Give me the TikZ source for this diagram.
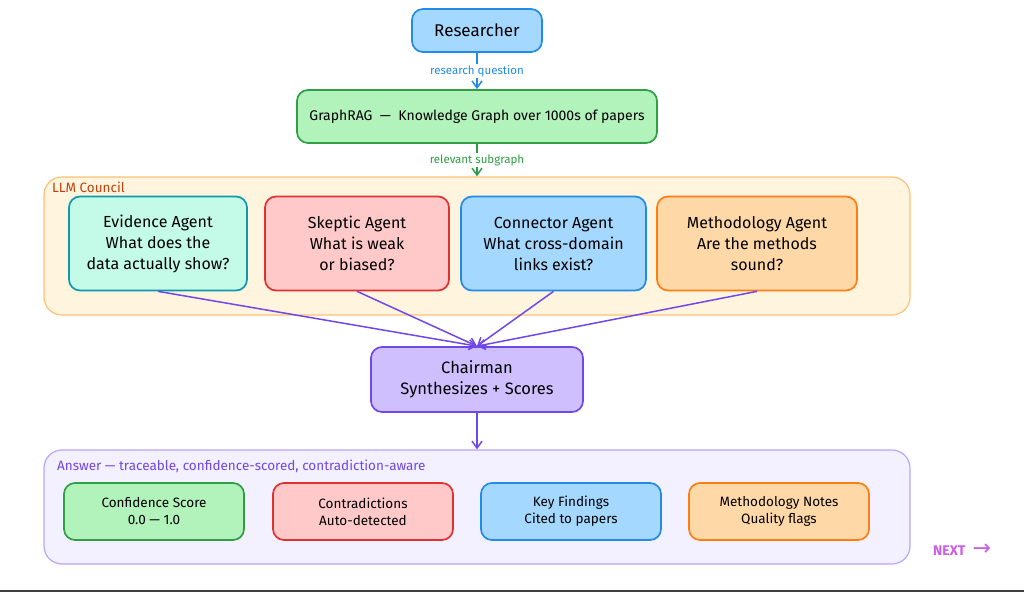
\documentclass[tikz,border=0pt]{standalone}
\usepackage{fontspec}
\setmainfont{Fira Sans}
\newfontfamily\symfont{DejaVu Sans}
\usetikzlibrary{arrows.meta, positioning}

\definecolor{bluefill}{HTML}{A5D8FF}
\definecolor{blueline}{HTML}{228BE6}
\definecolor{greenfill}{HTML}{B2F2BB}
\definecolor{greenline}{HTML}{2F9E44}
\definecolor{tealfill}{HTML}{C3FAE8}
\definecolor{tealline}{HTML}{1098AD}
\definecolor{redfill}{HTML}{FFC9C9}
\definecolor{redline}{HTML}{E03131}
\definecolor{orangefill}{HTML}{FFD8A8}
\definecolor{orangeline}{HTML}{FD7E14}
\definecolor{violetfill}{HTML}{D0BFFF}
\definecolor{violetline}{HTML}{7048E8}
\definecolor{councilfill}{HTML}{FFF4DD}
\definecolor{councilline}{HTML}{FFC078}
\definecolor{counciltext}{HTML}{C2410C}
\definecolor{answerfill}{HTML}{F3F0FF}
\definecolor{answerline}{HTML}{B9A6FC}
\definecolor{nextcol}{HTML}{CC5DE8}

\begin{document}
\begin{tikzpicture}[x=1pt, y=-1pt]

% GLOBAL SETTINGS
\newcommand{\fs}[2]{\fontsize{#1}{#2}\selectfont}
\newcommand{\midx}{477}
\tikzset{
  box/.style={draw, line width=1.7pt, rounded corners=11pt, align=center,
    inner sep=0pt},
  agent/.style={box, minimum height=94pt, font=\fs{16}{21}},
  result/.style={box, minimum width=180pt, minimum height=57pt, font=\fs{13.5}{17}},
  group/.style={draw, line width=1.2pt, rounded corners=18pt, minimum width=866pt},
  grouplabel/.style={anchor=west, inner sep=0pt, font=\fs{13.5}{15}},
  flow/.style={-{Straight Barb[length=7pt, width=10pt]}, line width=1.5pt},
  flowlabel/.style={fill=white, inner sep=1.5pt, font=\fs{11.5}{13}},
}
\useasboundingbox (0,0) rectangle (1024,592);

% TOP
\node[box, draw=blueline, fill=bluefill, minimum width=130pt, minimum height=43pt,
  font=\fs{17}{20}] (researcher) at (\midx,30.5) {Researcher};
\node[box, draw=greenline, fill=greenfill, minimum width=360pt, minimum height=53pt,
  font=\fs{14}{16}] (graphrag) at (\midx,116.5)
  {GraphRAG \ --- \ Knowledge Graph over 1000s of papers};

% COUNCIL
\node[group, draw=councilline, fill=councilfill, minimum height=138pt]
  (council) at (\midx,246) {};
\node[grouplabel, text=counciltext] (councillabel) at (52,187.5) {LLM Council};
\foreach \n/\cx/\w/\col/\txt in {
  evidence/158/178/teal/{Evidence Agent\\What does the\\data actually show?},
  skeptic/357/184/red/{Skeptic Agent\\What is weak\\or biased?},
  connector/553.5/185/blue/{Connector Agent\\What cross-domain\\links exist?},
  method/757/200/orange/{Methodology Agent\\Are the methods\\sound?}} {
  \node[agent, draw=\col line, fill=\col fill, minimum width=\w pt]
    (\n) at (\cx,243.5) {\txt};
}

% CHAIRMAN
\node[box, draw=violetline, fill=violetfill, minimum width=212pt, minimum height=65pt,
  font=\fs{16.5}{21}] (chair) at (\midx,379.5) {Chairman\\Synthesizes + Scores};

% ANSWER
\node[group, draw=answerline, fill=answerfill, minimum height=114pt]
  (answer) at (\midx,507) {};
\node[grouplabel, text=violetline] (answerlabel) at (57,466)
  {Answer --- traceable, confidence-scored, contradiction-aware};
\foreach \n/\cx/\col/\txt in {
  confidence/154/green/{Confidence Score\\0.0 --- 1.0},
  contra/363/red/{Contradictions\\Auto-detected},
  findings/571/blue/{Key Findings\\Cited to papers},
  notes/779/orange/{Methodology Notes\\Quality flags}} {
  \node[result, draw=\col line, fill=\col fill] (\n) at (\cx,511.5) {\txt};
}

\node[anchor=west, inner sep=0pt, text=nextcol, font=\fs{14}{16}\bfseries]
  (next) at (933,550) {NEXT\hspace{7pt}{\symfont\fs{22}{22}\mdseries →}};

% EDGES
\draw[flow, blueline] (researcher) -- node[flowlabel, text=blueline] {research question} (graphrag);
\draw[flow, greenline] (graphrag) -- node[flowlabel, text=greenline] {relevant subgraph} (council);
\foreach \n in {evidence, skeptic, connector, method} {
  \draw[flow, violetline] (\n.south) -- (chair.north);
}
\draw[flow, violetline] (chair) -- (answer);

% BOTTOM RULE
\draw[black!75, line width=2pt] (0,591) -- (1024,591);

\end{tikzpicture}
\end{document}
